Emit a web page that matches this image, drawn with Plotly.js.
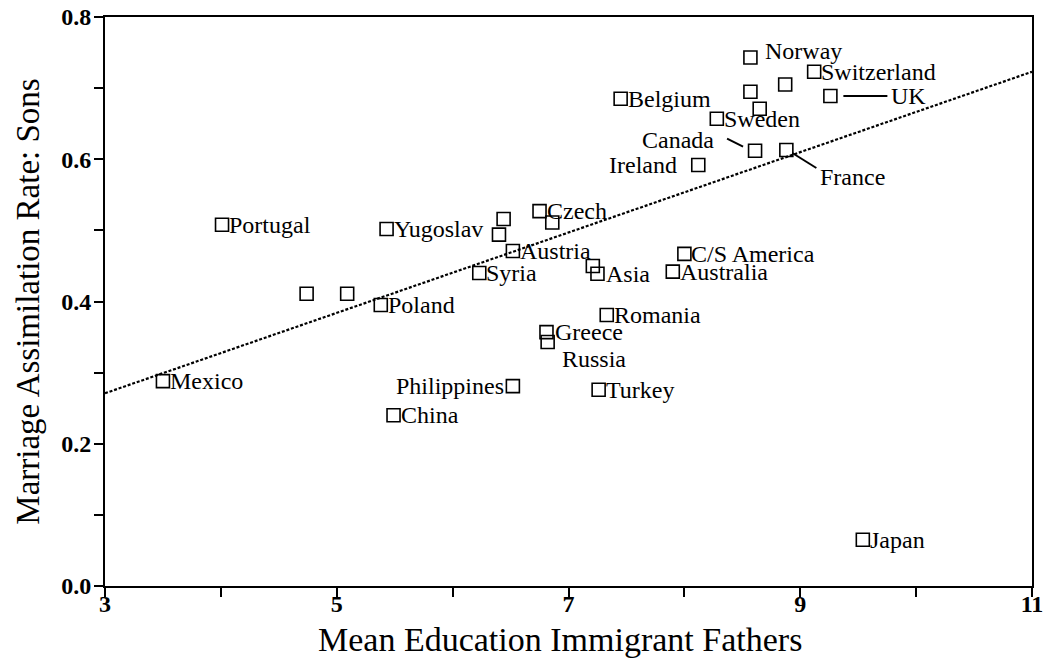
<!DOCTYPE html>
<html><head><meta charset="utf-8">
<script src="https://cdn.plot.ly/plotly-3.0.1.min.js"></script>
<style>html,body{margin:0;padding:0;background:#fff}</style>
</head><body><div id="chart" style="width:1047px;height:663px"></div>
<script>
// ---- data ----
const countries = ["Mexico","Portugal","","","Poland","Yugoslav","China","","","Syria","Austria","Philippines","Czech","","Greece","Russia","","Asia","Turkey","Romania","Belgium","C/S America","Australia","Ireland","Sweden","Canada","France","Norway","","","","Switzerland","UK","Japan"];
const eduFathers = [3.50,4.01,4.74,5.09,5.38,5.43,5.49,6.44,6.40,6.23,6.52,6.52,6.75,6.86,6.81,6.82,7.21,7.25,7.26,7.33,7.45,8.00,7.90,8.12,8.28,8.61,8.88,8.57,8.57,8.65,8.87,9.12,9.26,9.54];
const assimRate = [0.288,0.508,0.411,0.411,0.395,0.502,0.240,0.516,0.494,0.440,0.471,0.281,0.527,0.511,0.357,0.343,0.450,0.439,0.276,0.381,0.685,0.467,0.442,0.592,0.657,0.612,0.613,0.743,0.695,0.671,0.705,0.723,0.689,0.065];
const fitX = [3, 11];
const fitY = [0.271, 0.723];
const xTicks = [3, 5, 7, 9, 11];
const yTicks = [0, 0.2, 0.4, 0.6, 0.8];
const yTickText = ["0.0", "0.2", "0.4", "0.6", "0.8"];
const xTitle = "Mean Education Immigrant Fathers";
const yTitle = "Marriage Assimilation Rate: Sons";

// ---- label placement (pixel offsets, style only) ----
const placement = {
  "Norway": {anchor: "left", dx: 13, dy: 7},
  "Philippines": {anchor: "right", dx: -7, dy: 0},
  "Ireland": {anchor: "right", dx: -19, dy: 0},
  "Canada": {anchor: "right", dx: -39, dy: 11, lead: [-28, 12, -12, 4]},
  "France": {anchor: "left", dx: 32, dy: -27, lead: [6, -3, 30, -18]},
  "UK": {anchor: "left", dx: 59, dy: 0, lead: [13, 0, 57, 0]},
  "Russia": {anchor: "left", dx: 12, dy: -17},
  "Greece": {anchor: "left", dx: 7, dy: 0},
  "Asia": {anchor: "left", dx: 7, dy: 0}
};

const FONT = "Liberation Serif, Times New Roman, serif";
const annotations = [];
const shapes = [];
countries.forEach((name, i) => {
  if (!name) return;
  const p = placement[name] || {anchor: "left", dx: 5, dy: 0};
  annotations.push({
    x: eduFathers[i], y: assimRate[i], xref: "x", yref: "y",
    text: name, showarrow: false, xanchor: p.anchor, yanchor: "middle",
    xshift: p.dx, yshift: p.dy,
    font: {family: FONT, size: 24, color: "#000"}
  });
  if (p.lead) {
    shapes.push({
      type: "line", xref: "x", yref: "y",
      xsizemode: "pixel", ysizemode: "pixel",
      xanchor: eduFathers[i], yanchor: assimRate[i],
      x0: p.lead[0], y0: p.lead[1], x1: p.lead[2], y1: p.lead[3],
      line: {color: "#000", width: 2}
    });
  }
});
annotations.push({
  xref: "paper", yref: "paper", x: 0.5, y: 0, xanchor: "center", yanchor: "top",
  xshift: -9, yshift: -33, showarrow: false, text: xTitle,
  font: {family: FONT, size: 34, color: "#000"}
});

const traces = [
  {
    x: fitX, y: fitY, type: "scatter", mode: "lines",
    line: {color: "#000", width: 2.2, dash: "3px,1.8px"},
    hoverinfo: "skip", showlegend: false
  },
  {
    x: eduFathers, y: assimRate, type: "scatter", mode: "markers",
    marker: {symbol: "square-open", size: 13, color: "#000", line: {width: 1.6, color: "#000"}},
    text: countries, showlegend: false
  }
];

const axisCommon = {
  showline: true, linecolor: "#000", linewidth: 2, mirror: true,
  showgrid: false, zeroline: false,
  ticks: "outside", ticklen: 9, tickwidth: 2, tickcolor: "#000",
  tickfont: {family: FONT, size: 24, color: "#000", weight: "bold"},
  automargin: false
};

const layout = {
  width: 1047, height: 663,
  margin: {l: 105, r: 15, t: 17, b: 77},
  paper_bgcolor: "#fff", plot_bgcolor: "#fff",
  showlegend: false,
  xaxis: Object.assign({}, axisCommon, {
    range: [3, 11], tickmode: "array", tickvals: xTicks,
    ticklabelstandoff: -14,
    minor: {tickmode: "linear", tick0: 3, dtick: 1, ticks: "outside", ticklen: 9, tickwidth: 2, tickcolor: "#000"}
  }),
  yaxis: Object.assign({}, axisCommon, {
    range: [0, 0.8], tickmode: "array", tickvals: yTicks, ticktext: yTickText,
    ticklabelstandoff: -2,
    minor: {tickmode: "linear", tick0: 0, dtick: 0.1, ticks: "outside", ticklen: 9, tickwidth: 2, tickcolor: "#000"},
    title: {text: yTitle, font: {family: FONT, size: 33, color: "#000"}, standoff: 12}
  }),
  annotations: annotations,
  shapes: shapes
};

Plotly.newPlot("chart", traces, layout, {displayModeBar: false, staticPlot: true});
</script>
</body></html>
